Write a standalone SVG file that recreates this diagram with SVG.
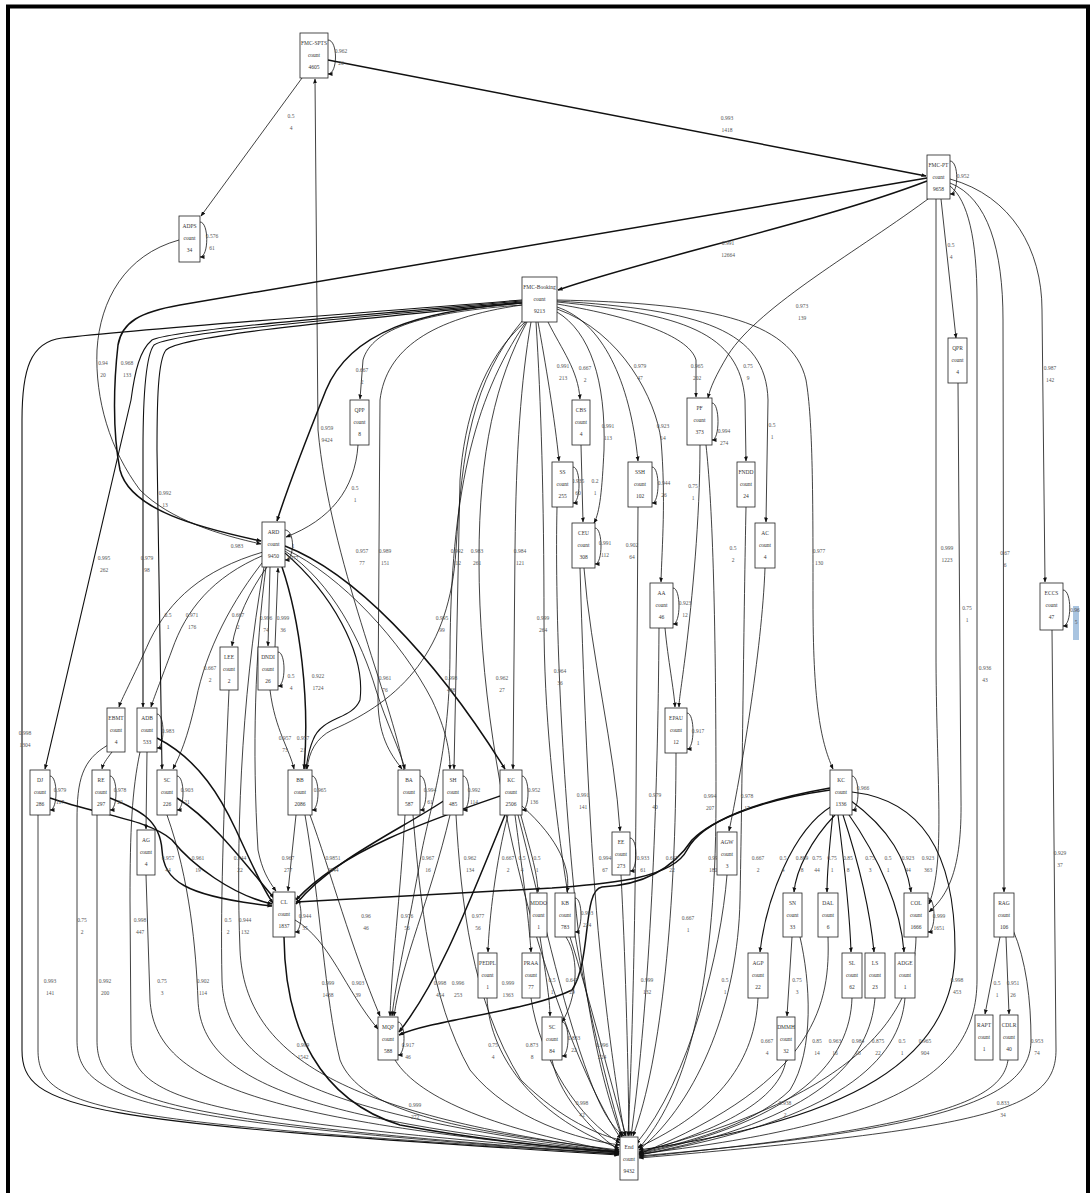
<svg xmlns="http://www.w3.org/2000/svg" width="1090" height="1193" viewBox="0 0 1090 1193">
<defs>
<marker id="ah" viewBox="0 0 10 10" refX="9" refY="5" markerWidth="5" markerHeight="5" markerUnits="userSpaceOnUse" orient="auto"><path d="M0,1 L10,5 L0,9 z" fill="#111"/></marker>
<style>
.n rect{fill:#fff;stroke:#222;stroke-width:0.8}
.n text{font-family:"Liberation Serif",serif;font-size:5.5px;fill:#333;text-anchor:middle}
.e path{fill:none;stroke:#111;stroke-width:0.8;marker-end:url(#ah)}
.e path.h{stroke-width:1.5}
.e path.m{stroke-width:1.1}
.lb text{font-family:"Liberation Serif",serif;font-size:5.5px;fill:#555;text-anchor:middle}
</style>
</defs>
<rect width="1090" height="1193" fill="#fff"/>
<path d="M8,1193 V6.5 H1088 V1193" fill="none" stroke="#000" stroke-width="4"/>
<rect x="1073" y="606" width="6" height="34" fill="#a9c4e0"/>

<g id="edges" class="e">
<path d="M302,78 L201,216"/>
<path class="h" d="M328,60 L926,176"/>
<path d="M328,40 C338,40 338,74 328,74"/>
<path d="M200,222 C209,222 209,257 200,257"/>
<path d="M950,161 C959,161 959,194 950,194"/>
<path class="h" d="M927,181 C820,222 650,258 558,290"/>
<path class="h" d="M927,178 L180,305 C140,312 122,322 118,345 C114,380 112,430 120,470 C130,510 200,528 261,541"/>
<path d="M179,240 C125,255 100,300 97,350 C95,400 110,450 140,490 C170,520 220,535 261,544"/>
<path d="M932,196 C860,250 760,305 728,355 C716,375 710,388 708,398"/>
<path d="M941,199 L956,338"/>
<path d="M936,199 L936,650 C936,780 946,860 929,904"/>
<path d="M958,383 L961,800 C962,870 948,895 929,912"/>
<path d="M950,186 C968,200 977,240 977,300 L977,980 C977,1080 880,1125 639,1154"/>
<path d="M950,183 C988,198 1003,250 1003,320 L1004,892"/>
<path d="M950,179 C1012,196 1042,250 1042,310 L1045,582"/>
<path d="M1063,590 C1072,590 1072,626 1063,626"/>
<path d="M1052,630 L1056,1050 C1056,1110 990,1128 639,1158"/>
<path d="M1000,937 L985,1014"/>
<path d="M1006,937 L1009,1014"/>
<path d="M1013,930 C1026,960 1031,1000 1031,1040 C1031,1100 940,1130 639,1156"/>
<path d="M1008,1060 C1002,1100 940,1127 639,1157"/>

<path d="M522,305 C425,312 372,328 363,360 L360,399"/>
<path d="M358,445 C355,490 330,520 286,537"/>
<path class="h" d="M522,303 C420,310 350,332 326,390 C310,430 290,480 277,521"/>
<path d="M404,770 C392,700 330,560 318,430 L315,79"/>
<path d="M538,322 C545,360 555,420 559,461"/>
<path d="M548,322 C562,350 578,370 580,399"/>
<path d="M581,445 L583,522"/>
<path d="M573,467 C581,467 581,503 573,503"/>
<path d="M557,312 C590,332 606,380 604,450 C602,490 600,512 594,523"/>
<path d="M595,528 C603,528 603,564 595,564"/>
<path d="M557,307 C602,322 630,380 638,461"/>
<path d="M652,467 C660,467 660,503 652,503"/>
<path d="M557,309 C622,332 656,400 661,440 C666,500 662,545 661,582"/>
<path d="M673,588 C681,588 681,624 673,624"/>
<path d="M665,628 C668,660 674,690 675,707"/>
<path d="M700,445 C700,520 692,600 686,650 C681,690 679,700 679,707"/>
<path d="M687,713 C695,713 695,749 687,749"/>
<path d="M712,403 C720,403 720,440 712,440"/>
<path d="M557,304 C640,318 690,338 696,360 L696,397"/>
<path d="M557,302 C682,314 740,332 745,400 L746,461"/>
<path d="M557,301 C702,310 766,330 768,400 L766,522"/>
<path d="M557,300 C702,303 792,318 806,380 C813,420 813,500 813,600 C813,700 820,740 833,769"/>
<path d="M746,507 C744,600 742,800 740,900 C738,1000 700,1100 639,1150"/>
<path d="M765,568 C762,650 740,780 729,831"/>
<path d="M706,445 C712,500 716,600 716,800 C716,1000 682,1100 639,1148"/>

<path class="m" d="M522,300 C350,314 150,328 62,338 C30,342 22,370 22,420 L22,1050 C22,1110 80,1122 619,1155"/>
<path class="m" d="M522,301 C350,316 172,330 152,340 C140,350 135,370 131,400 L45,769"/>
<path class="m" d="M522,302 C350,318 172,332 154,345 C146,355 143,400 143,450 L143,707"/>
<path class="m" d="M522,303 C350,320 182,335 166,350 C158,360 157,400 157,450 L162,769"/>
<path d="M522,305 C430,318 386,350 380,400 L378,700 C378,740 394,758 402,769"/>
<path d="M525,322 C482,360 464,420 460,480 L454,769"/>
<path d="M531,322 C521,380 516,450 515,550 L513,769"/>
<path d="M523,320 C472,380 462,450 456,550 C450,650 402,700 332,730 C316,738 309,752 307,769"/>
<path d="M536,322 C541,400 544,500 544,620 C544,800 582,1000 622,1136"/>
<path d="M527,322 C496,380 479,450 479,560 C479,800 562,1050 621,1139"/>
<path d="M526,322 C472,400 451,500 450,650 C450,750 432,800 422,850 C408,930 396,980 392,1016"/>

<path d="M285,530 C295,530 295,560 285,560"/>
<path d="M263,552 C202,570 170,600 150,640 C132,680 121,700 119,707"/>
<path d="M264,555 C212,577 186,610 172,650 C161,680 153,700 151,707"/>
<path d="M266,558 C232,600 206,650 196,700 C187,740 180,755 173,769"/>
<path d="M267,567 C250,590 236,620 232,646"/>
<path d="M270,567 L268,646"/>
<path d="M275,647 L278,568"/>
<path d="M278,652 C286,652 286,686 278,686"/>
<path d="M270,690 C275,730 290,750 294,769"/>
<path class="h" d="M282,567 C300,620 310,700 304,769"/>
<path class="h" d="M285,546 C352,572 432,652 505,769"/>
<path d="M285,551 C332,582 362,642 376,690 C386,722 400,750 405,769"/>
<path d="M285,549 C342,576 402,642 432,700 C446,730 450,750 450,769"/>
<path class="m" d="M285,553 C330,592 366,652 360,700 C352,720 322,716 313,740 C308,752 307,762 306,769"/>
<path d="M266,567 C255,650 252,750 258,850 C262,870 268,880 276,891"/>

<path d="M50,776 C58,776 58,810 50,810"/>
<path d="M110,776 C118,776 118,810 110,810"/>
<path d="M177,776 C185,776 185,810 177,810"/>
<path d="M157,714 C165,714 165,748 157,748"/>
<path d="M112,752 C106,760 103,764 102,769"/>
<path class="h" d="M157,738 C200,760 222,800 236,830 C250,860 262,888 273,903"/>
<path class="h" d="M50,798 C100,815 150,820 172,840 C192,865 232,895 272,904"/>
<path class="h" d="M110,798 C140,810 160,820 162,850 C164,880 182,896 272,906"/>
<path class="h" d="M177,798 C212,820 242,860 274,898"/>
<path d="M147,752 L146,829"/>
<path d="M146,875 L150,1000 C155,1080 250,1120 619,1153"/>
<path d="M38,815 L38,1050 C38,1110 100,1122 619,1154"/>
<path d="M97,815 L97,1040 C97,1100 150,1120 619,1154"/>
<path d="M108,745 C82,760 77,780 77,820 L77,1040 C77,1100 140,1122 619,1154"/>
<path d="M140,752 C132,790 130,830 130,900 L131,1040 C131,1100 200,1120 619,1153"/>
<path d="M167,815 C190,880 196,950 198,1000 C201,1080 300,1120 619,1152"/>
<path d="M264,567 C240,700 236,850 240,950 C245,1060 350,1115 619,1151"/>
<path d="M229,690 C225,780 220,900 222,980 C225,1070 320,1115 619,1152"/>

<path d="M312,776 C320,776 320,810 312,810"/>
<path d="M296,815 L288,891"/>
<path d="M305,815 C320,900 325,1000 340,1060 C360,1110 450,1130 619,1150"/>
<path d="M310,815 C330,870 352,950 380,1016"/>
<path d="M295,898 C303,898 303,932 295,932"/>
<path class="h" d="M284,937 C285,1030 320,1100 400,1125 C480,1140 560,1148 619,1152"/>
<path d="M295,920 C330,940 345,990 378,1029"/>
<path d="M420,776 C428,776 428,810 420,810"/>
<path d="M405,815 C400,900 392,960 390,1016"/>
<path d="M413,815 C420,900 430,1000 470,1070 C510,1120 580,1140 620,1145"/>
<path d="M463,776 C471,776 471,810 463,810"/>
<path class="h" d="M445,800 C400,830 332,860 296,904"/>
<path d="M456,815 C461,900 471,1000 521,1080 C561,1120 601,1136 621,1140"/>
<path d="M450,815 C430,900 402,960 394,1016"/>
<path d="M522,776 C530,776 530,810 522,810"/>
<path class="h" d="M500,796 C430,820 342,850 296,900"/>
<path class="h" d="M505,815 C470,900 440,980 399,1032"/>
<path d="M508,815 C496,860 489,920 488,952"/>
<path d="M515,815 C521,860 529,920 531,952"/>
<path d="M520,812 C530,850 537,870 538,892"/>
<path d="M522,806 C560,840 571,870 567,892"/>
<path d="M518,815 C540,900 560,1000 590,1080 C605,1120 616,1130 624,1136"/>
<path d="M487,998 C490,1060 540,1120 619,1148"/>
<path d="M531,998 C540,1060 580,1120 620,1143"/>
<path d="M575,898 C583,898 583,932 575,932"/>
<path d="M566,937 C581,960 576,1000 562,1022"/>
<path d="M540,937 C545,970 550,1000 550,1016"/>
<path d="M562,1022 C570,1022 570,1056 562,1056"/>
<path d="M552,1060 C560,1100 600,1138 619,1150"/>
<path d="M570,937 C590,1000 610,1080 626,1136"/>
<path d="M398,1022 C406,1022 406,1055 398,1055"/>
<path d="M395,1060 C420,1100 500,1130 619,1152"/>
<path class="h" d="M830,790 C760,800 712,820 692,840 C672,870 642,885 602,887 C582,890 592,960 572,990 C532,1010 432,1020 399,1035"/>
<path class="h" d="M830,788 C762,800 702,820 687,850 C672,880 602,884 552,888 L296,902"/>

<path d="M630,838 C638,838 638,871 630,871"/>
<path d="M584,568 C590,650 615,750 620,831"/>
<path d="M621,875 C625,950 628,1050 629,1136"/>
<path d="M557,507 C555,600 560,750 575,900 C590,1050 612,1110 622,1137"/>
<path d="M580,568 C584,700 590,850 600,950 C610,1050 620,1110 625,1136"/>
<path d="M638,507 L636,800 C635,950 631,1080 628,1136"/>
<path d="M659,628 C658,800 650,1000 631,1136"/>
<path d="M676,753 C676,900 662,1060 633,1136"/>
<path d="M727,875 C721,950 690,1080 636,1144"/>
<path d="M852,776 C860,776 860,810 852,810"/>
<path class="m" d="M832,806 C792,830 766,900 760,952"/>
<path class="m" d="M835,815 C811,840 796,870 794,892"/>
<path class="m" d="M833,813 C829,850 827,870 827,892"/>
<path class="m" d="M838,815 C845,870 850,920 851,952"/>
<path class="m" d="M843,815 C861,870 871,920 874,952"/>
<path class="m" d="M847,812 C881,860 901,910 904,952"/>
<path class="m" d="M850,800 C891,830 906,860 911,892"/>
<path class="m" d="M852,792 C920,800 955,850 955,950 C955,1060 850,1120 639,1150"/>
<path d="M928,898 C936,898 936,932 928,932"/>
<path d="M916,937 C915,1000 880,1090 639,1152"/>
<path d="M792,937 L787,1016"/>
<path d="M758,998 C755,1060 720,1110 637,1148"/>
<path d="M786,1060 C780,1100 720,1130 639,1153"/>
<path d="M800,937 C810,980 815,1050 790,1090 C760,1120 700,1140 639,1153"/>
<path d="M828,937 C830,1000 820,1080 639,1154"/>
<path d="M852,998 C850,1060 800,1120 639,1154"/>
<path d="M875,998 C870,1060 820,1120 639,1155"/>
<path d="M905,998 C900,1060 840,1120 639,1155"/>
</g>

<g id="edge-labels" class="lb">
<text x="291" y="118">0.5<tspan x="291" dy="12">4</tspan></text>
<text x="727" y="120">0.993<tspan x="727" dy="12">1418</tspan></text>
<text x="341" y="53">0.962<tspan x="341" dy="12">26</tspan></text>
<text x="212" y="238">0.576<tspan x="212" dy="12">61</tspan></text>
<text x="963" y="178">0.952</text>
<text x="728" y="245">0.991<tspan x="728" dy="12">12664</tspan></text>
<text x="103" y="365">0.94<tspan x="103" dy="12">20</tspan></text>
<text x="127" y="365">0.968<tspan x="127" dy="12">133</tspan></text>
<text x="802" y="308">0.973<tspan x="802" dy="12">139</tspan></text>
<text x="951" y="247">0.5<tspan x="951" dy="12">4</tspan></text>
<text x="947" y="550">0.999<tspan x="947" dy="12">1223</tspan></text>
<text x="967" y="610">0.75<tspan x="967" dy="12">1</tspan></text>
<text x="985" y="670">0.936<tspan x="985" dy="12">43</tspan></text>
<text x="1005" y="555">0.67<tspan x="1005" dy="12">6</tspan></text>
<text x="1050" y="370">0.987<tspan x="1050" dy="12">142</tspan></text>
<text x="1060" y="855">0.929<tspan x="1060" dy="12">37</tspan></text>
<text x="997" y="985">0.5<tspan x="997" dy="12">1</tspan></text>
<text x="1013" y="985">0.951<tspan x="1013" dy="12">26</tspan></text>
<text x="1037" y="1043">0.953<tspan x="1037" dy="12">74</tspan></text>
<text x="1003" y="1105">0.833<tspan x="1003" dy="12">34</tspan></text>
<text x="1075" y="612">0.96<tspan x="1076" dy="12">5</tspan></text>
<text x="362" y="372">0.667<tspan x="362" dy="12">2</tspan></text>
<text x="355" y="490">0.5<tspan x="355" dy="12">1</tspan></text>
<text x="327" y="430">0.959<tspan x="327" dy="12">9424</tspan></text>
<text x="563" y="368">0.991<tspan x="563" dy="12">213</tspan></text>
<text x="585" y="370">0.667<tspan x="585" dy="12">2</tspan></text>
<text x="578" y="483">0.935<tspan x="578" dy="12">60</tspan></text>
<text x="595" y="483">0.2<tspan x="595" dy="12">1</tspan></text>
<text x="608" y="428">0.991<tspan x="608" dy="12">113</tspan></text>
<text x="605" y="545">0.991<tspan x="605" dy="12">112</tspan></text>
<text x="640" y="368">0.979<tspan x="640" dy="12">47</tspan></text>
<text x="664" y="485">0.944<tspan x="664" dy="12">26</tspan></text>
<text x="663" y="428">0.923<tspan x="663" dy="12">14</tspan></text>
<text x="685" y="605">0.923<tspan x="685" dy="12">12</tspan></text>
<text x="693" y="488">0.75<tspan x="693" dy="12">1</tspan></text>
<text x="698" y="733">0.917<tspan x="698" dy="12">1</tspan></text>
<text x="724" y="433">0.994<tspan x="724" dy="12">274</tspan></text>
<text x="697" y="368">0.965<tspan x="697" dy="12">202</tspan></text>
<text x="748" y="368">0.75<tspan x="748" dy="12">9</tspan></text>
<text x="772" y="427">0.5<tspan x="772" dy="12">1</tspan></text>
<text x="819" y="553">0.977<tspan x="819" dy="12">130</tspan></text>
<text x="733" y="550">0.5<tspan x="733" dy="12">2</tspan></text>
<text x="25" y="735">0.998<tspan x="25" dy="12">1304</tspan></text>
<text x="104" y="560">0.995<tspan x="104" dy="12">262</tspan></text>
<text x="147" y="560">0.979<tspan x="147" dy="12">98</tspan></text>
<text x="165" y="495">0.992<tspan x="165" dy="12">13</tspan></text>
<text x="385" y="553">0.989<tspan x="385" dy="12">151</tspan></text>
<text x="457" y="553">0.992<tspan x="457" dy="12">112</tspan></text>
<text x="477" y="553">0.983<tspan x="477" dy="12">261</tspan></text>
<text x="520" y="553">0.984<tspan x="520" dy="12">121</tspan></text>
<text x="442" y="620">0.995<tspan x="442" dy="12">99</tspan></text>
<text x="543" y="620">0.999<tspan x="543" dy="12">264</tspan></text>
<text x="451" y="680">0.998<tspan x="451" dy="12">488</tspan></text>
<text x="502" y="680">0.962<tspan x="502" dy="12">27</tspan></text>
<text x="385" y="680">0.961<tspan x="385" dy="12">76</tspan></text>
<text x="362" y="553">0.957<tspan x="362" dy="12">77</tspan></text>
<text x="237" y="548">0.983</text>
<text x="293" y="548">1<tspan x="293" dy="12">8977</tspan></text>
<text x="168" y="617">0.5<tspan x="168" dy="12">1</tspan></text>
<text x="192" y="617">0.971<tspan x="192" dy="12">176</tspan></text>
<text x="238" y="617">0.667<tspan x="238" dy="12">2</tspan></text>
<text x="210" y="670">0.667<tspan x="210" dy="12">2</tspan></text>
<text x="266" y="620">0.996<tspan x="266" dy="12">74</tspan></text>
<text x="283" y="620">0.999<tspan x="283" dy="12">36</tspan></text>
<text x="291" y="678">0.5<tspan x="291" dy="12">4</tspan></text>
<text x="318" y="678">0.922<tspan x="318" dy="12">1724</tspan></text>
<text x="285" y="740">0.957<tspan x="285" dy="12">73</tspan></text>
<text x="303" y="740">0.957<tspan x="303" dy="12">21</tspan></text>
<text x="60" y="792">0.979<tspan x="60" dy="12">117</tspan></text>
<text x="120" y="792">0.978<tspan x="120" dy="12">22</tspan></text>
<text x="187" y="792">0.903<tspan x="187" dy="12">21</tspan></text>
<text x="168" y="733">0.983</text>
<text x="168" y="860">0.957<tspan x="168" dy="12">44</tspan></text>
<text x="198" y="860">0.961<tspan x="198" dy="12">19</tspan></text>
<text x="240" y="860">0.944<tspan x="240" dy="12">22</tspan></text>
<text x="228" y="922">0.5<tspan x="228" dy="12">2</tspan></text>
<text x="245" y="922">0.944<tspan x="245" dy="12">132</tspan></text>
<text x="82" y="922">0.75<tspan x="82" dy="12">2</tspan></text>
<text x="140" y="922">0.998<tspan x="140" dy="12">447</tspan></text>
<text x="50" y="983">0.993<tspan x="50" dy="12">141</tspan></text>
<text x="105" y="983">0.992<tspan x="105" dy="12">200</tspan></text>
<text x="162" y="983">0.75<tspan x="162" dy="12">3</tspan></text>
<text x="203" y="983">0.902<tspan x="203" dy="12">114</tspan></text>
<text x="320" y="792">0.965</text>
<text x="288" y="860">0.967<tspan x="288" dy="12">277</tspan></text>
<text x="333" y="860">0.9851<tspan x="333" dy="12">2844</tspan></text>
<text x="428" y="860">0.967<tspan x="428" dy="12">16</tspan></text>
<text x="470" y="860">0.962<tspan x="470" dy="12">134</tspan></text>
<text x="508" y="860">0.667<tspan x="508" dy="12">2</tspan></text>
<text x="522" y="860">0.5<tspan x="522" dy="12">4</tspan></text>
<text x="537" y="860">0.5<tspan x="537" dy="12">1</tspan></text>
<text x="305" y="918">0.944<tspan x="305" dy="12">35</tspan></text>
<text x="366" y="918">0.96<tspan x="366" dy="12">46</tspan></text>
<text x="407" y="918">0.976<tspan x="407" dy="12">56</tspan></text>
<text x="478" y="918">0.977<tspan x="478" dy="12">56</tspan></text>
<text x="328" y="985">0.999<tspan x="328" dy="12">1438</tspan></text>
<text x="358" y="985">0.903<tspan x="358" dy="12">39</tspan></text>
<text x="440" y="985">0.998<tspan x="440" dy="12">454</tspan></text>
<text x="458" y="985">0.996<tspan x="458" dy="12">253</tspan></text>
<text x="508" y="985">0.999<tspan x="508" dy="12">1363</tspan></text>
<text x="303" y="1047">0.999<tspan x="303" dy="12">1542</tspan></text>
<text x="408" y="1047">0.917<tspan x="408" dy="12">46</tspan></text>
<text x="493" y="1047">0.75<tspan x="493" dy="12">4</tspan></text>
<text x="532" y="1047">0.873<tspan x="532" dy="12">8</tspan></text>
<text x="415" y="1107">0.999<tspan x="415" dy="12">272</tspan></text>
<text x="430" y="792">0.994<tspan x="430" dy="12">61</tspan></text>
<text x="474" y="792">0.992<tspan x="474" dy="12">114</tspan></text>
<text x="534" y="792">0.952<tspan x="534" dy="12">136</tspan></text>
<text x="605" y="860">0.994<tspan x="605" dy="12">67</tspan></text>
<text x="643" y="860">0.933<tspan x="643" dy="12">61</tspan></text>
<text x="672" y="860">0.647<tspan x="672" dy="12">22</tspan></text>
<text x="710" y="798">0.994<tspan x="710" dy="12">207</tspan></text>
<text x="747" y="798">0.978<tspan x="747" dy="12">17</tspan></text>
<text x="713" y="860">0.99<tspan x="713" dy="12">180</tspan></text>
<text x="758" y="860">0.667<tspan x="758" dy="12">2</tspan></text>
<text x="783" y="860">0.5<tspan x="783" dy="12">4</tspan></text>
<text x="802" y="860">0.889<tspan x="802" dy="12">8</tspan></text>
<text x="817" y="860">0.75<tspan x="817" dy="12">44</tspan></text>
<text x="832" y="860">0.75<tspan x="832" dy="12">1</tspan></text>
<text x="848" y="860">0.85<tspan x="848" dy="12">8</tspan></text>
<text x="870" y="860">0.75<tspan x="870" dy="12">3</tspan></text>
<text x="888" y="860">0.5<tspan x="888" dy="12">1</tspan></text>
<text x="908" y="860">0.923<tspan x="908" dy="12">44</tspan></text>
<text x="928" y="860">0.923<tspan x="928" dy="12">363</tspan></text>
<text x="863" y="790">0.966</text>
<text x="560" y="673">0.964<tspan x="560" dy="12">36</tspan></text>
<text x="583" y="797">0.991<tspan x="583" dy="12">141</tspan></text>
<text x="632" y="547">0.902<tspan x="632" dy="12">64</tspan></text>
<text x="655" y="797">0.979<tspan x="655" dy="12">40</tspan></text>
<text x="688" y="920">0.667<tspan x="688" dy="12">1</tspan></text>
<text x="587" y="915">0.993<tspan x="587" dy="12">224</tspan></text>
<text x="552" y="982">0.5<tspan x="552" dy="12">1</tspan></text>
<text x="572" y="982">0.647<tspan x="572" dy="12">29</tspan></text>
<text x="647" y="982">0.999<tspan x="647" dy="12">132</tspan></text>
<text x="725" y="982">0.5<tspan x="725" dy="12">1</tspan></text>
<text x="797" y="982">0.75<tspan x="797" dy="12">3</tspan></text>
<text x="574" y="1040">0.833<tspan x="574" dy="12">22</tspan></text>
<text x="602" y="1047">0.996<tspan x="602" dy="12">224</tspan></text>
<text x="767" y="1043">0.667<tspan x="767" dy="12">4</tspan></text>
<text x="817" y="1043">0.85<tspan x="817" dy="12">14</tspan></text>
<text x="835" y="1043">0.963<tspan x="835" dy="12">16</tspan></text>
<text x="858" y="1043">0.984<tspan x="858" dy="12">18</tspan></text>
<text x="878" y="1043">0.875<tspan x="878" dy="12">22</tspan></text>
<text x="902" y="1043">0.5<tspan x="902" dy="12">1</tspan></text>
<text x="925" y="1043">0.965<tspan x="925" dy="12">904</tspan></text>
<text x="957" y="982">0.998<tspan x="957" dy="12">453</tspan></text>
<text x="939" y="918">0.999<tspan x="939" dy="12">1651</tspan></text>
<text x="582" y="1105">0.998<tspan x="582" dy="12">42</tspan></text>
<text x="785" y="1105">0.938<tspan x="785" dy="12">2</tspan></text>
</g>

<g id="n-sp" class="n"><rect x="300" y="33" width="28" height="45"/><text x="314" y="45">FMC-SPTS<tspan x="314" dy="12">count</tspan><tspan x="314" dy="12">4605</tspan></text></g>
<g id="n-pt" class="n"><rect x="927" y="155" width="23" height="44"/><text x="938.5" y="167">FMC-PT<tspan x="938.5" dy="12">count</tspan><tspan x="938.5" dy="12">9658</tspan></text></g>
<g id="n-adps" class="n"><rect x="179" y="216" width="21" height="46"/><text x="189.5" y="228">ADPS<tspan x="189.5" dy="12">count</tspan><tspan x="189.5" dy="12">34</tspan></text></g>
<g id="n-bk" class="n"><rect x="522" y="277" width="35" height="45"/><text x="539.5" y="289">FMC-Booking<tspan x="539.5" dy="12">count</tspan><tspan x="539.5" dy="12">9213</tspan></text></g>
<g id="n-qpr" class="n"><rect x="948" y="338" width="19" height="45"/><text x="957.5" y="350">QPR<tspan x="957.5" dy="12">count</tspan><tspan x="957.5" dy="12">4</tspan></text></g>
<g id="n-eccs" class="n"><rect x="1040" y="583" width="23" height="47"/><text x="1051.5" y="595">ECCS<tspan x="1051.5" dy="12">count</tspan><tspan x="1051.5" dy="12">47</tspan></text></g>
<g id="n-qpp" class="n"><rect x="350" y="400" width="19" height="45"/><text x="359.5" y="412">QPP<tspan x="359.5" dy="12">count</tspan><tspan x="359.5" dy="12">8</tspan></text></g>
<g id="n-cbs" class="n"><rect x="572" y="400" width="18" height="45"/><text x="581" y="412">CBS<tspan x="581" dy="12">count</tspan><tspan x="581" dy="12">4</tspan></text></g>
<g id="n-pf" class="n"><rect x="687" y="398" width="25" height="47"/><text x="699.5" y="410">PF<tspan x="699.5" dy="12">count</tspan><tspan x="699.5" dy="12">373</tspan></text></g>
<g id="n-ss" class="n"><rect x="552" y="462" width="21" height="45"/><text x="562.5" y="474">SS<tspan x="562.5" dy="12">count</tspan><tspan x="562.5" dy="12">255</tspan></text></g>
<g id="n-ssh" class="n"><rect x="628" y="462" width="24" height="45"/><text x="640" y="474">SSH<tspan x="640" dy="12">count</tspan><tspan x="640" dy="12">102</tspan></text></g>
<g id="n-fndd" class="n"><rect x="737" y="462" width="18" height="45"/><text x="746" y="474">FNDD<tspan x="746" dy="12">count</tspan><tspan x="746" dy="12">24</tspan></text></g>
<g id="n-ceu" class="n"><rect x="572" y="523" width="23" height="45"/><text x="583.5" y="535">CEU<tspan x="583.5" dy="12">count</tspan><tspan x="583.5" dy="12">308</tspan></text></g>
<g id="n-ac" class="n"><rect x="755" y="523" width="20" height="45"/><text x="765" y="535">AC<tspan x="765" dy="12">count</tspan><tspan x="765" dy="12">4</tspan></text></g>
<g id="n-ard" class="n"><rect x="262" y="522" width="23" height="45"/><text x="273.5" y="534">ARD<tspan x="273.5" dy="12">count</tspan><tspan x="273.5" dy="12">9450</tspan></text></g>
<g id="n-aa" class="n"><rect x="650" y="583" width="23" height="45"/><text x="661.5" y="595">AA<tspan x="661.5" dy="12">count</tspan><tspan x="661.5" dy="12">46</tspan></text></g>
<g id="n-lee" class="n"><rect x="220" y="647" width="18" height="43"/><text x="229" y="659">LEE<tspan x="229" dy="12">count</tspan><tspan x="229" dy="12">2</tspan></text></g>
<g id="n-dndi" class="n"><rect x="258" y="647" width="20" height="43"/><text x="268" y="659">DNDI<tspan x="268" dy="12">count</tspan><tspan x="268" dy="12">26</tspan></text></g>
<g id="n-epau" class="n"><rect x="665" y="708" width="22" height="45"/><text x="676" y="720">EPAU<tspan x="676" dy="12">count</tspan><tspan x="676" dy="12">12</tspan></text></g>
<g id="n-ebmt" class="n"><rect x="107" y="708" width="18" height="44"/><text x="116" y="720">EBMT<tspan x="116" dy="12">count</tspan><tspan x="116" dy="12">4</tspan></text></g>
<g id="n-adb" class="n"><rect x="137" y="708" width="20" height="44"/><text x="147" y="720">ADB<tspan x="147" dy="12">count</tspan><tspan x="147" dy="12">533</tspan></text></g>
<g id="n-dj" class="n"><rect x="30" y="770" width="20" height="45"/><text x="40" y="782">DJ<tspan x="40" dy="12">count</tspan><tspan x="40" dy="12">286</tspan></text></g>
<g id="n-re" class="n"><rect x="92" y="770" width="18" height="45"/><text x="101" y="782">RE<tspan x="101" dy="12">count</tspan><tspan x="101" dy="12">297</tspan></text></g>
<g id="n-sc" class="n"><rect x="157" y="770" width="20" height="45"/><text x="167" y="782">SC<tspan x="167" dy="12">count</tspan><tspan x="167" dy="12">226</tspan></text></g>
<g id="n-bb" class="n"><rect x="288" y="770" width="24" height="45"/><text x="300" y="782">BB<tspan x="300" dy="12">count</tspan><tspan x="300" dy="12">2086</tspan></text></g>
<g id="n-ba" class="n"><rect x="398" y="770" width="22" height="45"/><text x="409" y="782">BA<tspan x="409" dy="12">count</tspan><tspan x="409" dy="12">587</tspan></text></g>
<g id="n-sh" class="n"><rect x="443" y="770" width="20" height="45"/><text x="453" y="782">SH<tspan x="453" dy="12">count</tspan><tspan x="453" dy="12">485</tspan></text></g>
<g id="n-kc" class="n"><rect x="500" y="770" width="22" height="45"/><text x="511" y="782">KC<tspan x="511" dy="12">count</tspan><tspan x="511" dy="12">2506</tspan></text></g>
<g id="n-kr" class="n"><rect x="830" y="770" width="22" height="45"/><text x="841" y="782">KC<tspan x="841" dy="12">count</tspan><tspan x="841" dy="12">1336</tspan></text></g>
<g id="n-ag" class="n"><rect x="137" y="830" width="18" height="45"/><text x="146" y="842">AG<tspan x="146" dy="12">count</tspan><tspan x="146" dy="12">4</tspan></text></g>
<g id="n-cl" class="n"><rect x="273" y="892" width="22" height="45"/><text x="284" y="904">CL<tspan x="284" dy="12">count</tspan><tspan x="284" dy="12">1837</tspan></text></g>
<g id="n-ee" class="n"><rect x="612" y="832" width="18" height="43"/><text x="621" y="844">EE<tspan x="621" dy="12">count</tspan><tspan x="621" dy="12">273</tspan></text></g>
<g id="n-agw" class="n"><rect x="717" y="832" width="20" height="43"/><text x="727" y="844">AGW<tspan x="727" dy="12">count</tspan><tspan x="727" dy="12">3</tspan></text></g>
<g id="n-mddo" class="n"><rect x="530" y="893" width="17" height="44"/><text x="538.5" y="905">MDDO<tspan x="538.5" dy="12">count</tspan><tspan x="538.5" dy="12">1</tspan></text></g>
<g id="n-kb" class="n"><rect x="555" y="893" width="20" height="44"/><text x="565" y="905">KB<tspan x="565" dy="12">count</tspan><tspan x="565" dy="12">783</tspan></text></g>
<g id="n-sn" class="n"><rect x="783" y="893" width="19" height="44"/><text x="792.5" y="905">SN<tspan x="792.5" dy="12">count</tspan><tspan x="792.5" dy="12">33</tspan></text></g>
<g id="n-dal" class="n"><rect x="818" y="893" width="20" height="44"/><text x="828" y="905">DAL<tspan x="828" dy="12">count</tspan><tspan x="828" dy="12">6</tspan></text></g>
<g id="n-col" class="n"><rect x="904" y="893" width="24" height="44"/><text x="916" y="905">COL<tspan x="916" dy="12">count</tspan><tspan x="916" dy="12">1666</tspan></text></g>
<g id="n-rag" class="n"><rect x="994" y="893" width="20" height="44"/><text x="1004" y="905">RAG<tspan x="1004" dy="12">count</tspan><tspan x="1004" dy="12">106</tspan></text></g>
<g id="n-pedpl" class="n"><rect x="478" y="953" width="19" height="45"/><text x="487.5" y="965">PEDPL<tspan x="487.5" dy="12">count</tspan><tspan x="487.5" dy="12">1</tspan></text></g>
<g id="n-praa" class="n"><rect x="522" y="953" width="18" height="45"/><text x="531" y="965">PRAA<tspan x="531" dy="12">count</tspan><tspan x="531" dy="12">77</tspan></text></g>
<g id="n-agp" class="n"><rect x="748" y="953" width="20" height="45"/><text x="758" y="965">AGP<tspan x="758" dy="12">count</tspan><tspan x="758" dy="12">22</tspan></text></g>
<g id="n-sl" class="n"><rect x="842" y="953" width="20" height="45"/><text x="852" y="965">SL<tspan x="852" dy="12">count</tspan><tspan x="852" dy="12">62</tspan></text></g>
<g id="n-ls" class="n"><rect x="865" y="953" width="20" height="45"/><text x="875" y="965">LS<tspan x="875" dy="12">count</tspan><tspan x="875" dy="12">23</tspan></text></g>
<g id="n-adge" class="n"><rect x="895" y="953" width="20" height="45"/><text x="905" y="965">ADGE<tspan x="905" dy="12">count</tspan><tspan x="905" dy="12">1</tspan></text></g>
<g id="n-mqp" class="n"><rect x="378" y="1017" width="20" height="43"/><text x="388" y="1029">MQP<tspan x="388" dy="12">count</tspan><tspan x="388" dy="12">588</tspan></text></g>
<g id="n-sc2" class="n"><rect x="542" y="1017" width="20" height="43"/><text x="552" y="1029">SC<tspan x="552" dy="12">count</tspan><tspan x="552" dy="12">84</tspan></text></g>
<g id="n-dmmh" class="n"><rect x="777" y="1017" width="18" height="43"/><text x="786" y="1029" font-size="5">DMMH<tspan x="786" dy="12">count</tspan><tspan x="786" dy="12">32</tspan></text></g>
<g id="n-rapt" class="n"><rect x="975" y="1015" width="18" height="45"/><text x="984" y="1027">RAPT<tspan x="984" dy="12">count</tspan><tspan x="984" dy="12">1</tspan></text></g>
<g id="n-cdlr" class="n"><rect x="1000" y="1015" width="18" height="45"/><text x="1009" y="1027">CDLR<tspan x="1009" dy="12">count</tspan><tspan x="1009" dy="12">40</tspan></text></g>
<g id="n-end" class="n"><rect x="620" y="1137" width="18" height="43"/><text x="629" y="1149">End<tspan x="629" dy="12">count</tspan><tspan x="629" dy="12">9432</tspan></text></g>
</svg>
